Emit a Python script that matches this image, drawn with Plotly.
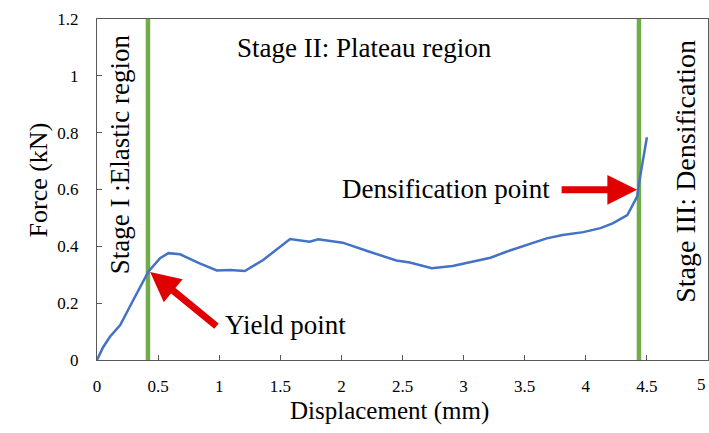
import plotly.graph_objects as go

# Force–displacement curve
disp = [0.0, 0.05, 0.106, 0.19, 0.297, 0.42, 0.516, 0.584, 0.68, 0.84, 0.98, 1.088, 1.21,
        1.36, 1.58, 1.74, 1.81, 2.01, 2.23, 2.45, 2.56, 2.74, 2.91, 3.05, 3.22, 3.35, 3.49,
        3.68, 3.81, 3.98, 4.12, 4.22, 4.34, 4.42, 4.44, 4.47, 4.50]
force = [0.0, 0.045, 0.082, 0.123, 0.211, 0.311, 0.358, 0.376, 0.372, 0.34, 0.315, 0.317, 0.313,
         0.352, 0.426, 0.416, 0.425, 0.413, 0.381, 0.35, 0.343, 0.323, 0.331, 0.344, 0.36, 0.381, 0.401,
         0.428, 0.44, 0.45, 0.464, 0.481, 0.51, 0.575, 0.634, 0.716, 0.784]

# Stage boundaries
stage_bounds = [0.417, 4.435]

xticks = [0, 0.5, 1, 1.5, 2, 2.5, 3, 3.5, 4, 4.5, 5]
xtick_labels = ["0", "0.5", "1", "1.5", "2", "2.5", "3", "3.5", "4", "4.5", "5"]
yticks = [0, 0.2, 0.4, 0.6, 0.8, 1.0, 1.2]
ytick_labels = ["0", "0.2", "0.4", "0.6", "0.8", "1", "1.2"]

FONT = "Liberation Serif, serif"
fig = go.Figure()

for xb in stage_bounds:
    fig.add_trace(go.Scatter(x=[xb, xb], y=[-0.008, 1.2], mode="lines",
                             line=dict(color="#70AD47", width=4.5), showlegend=False,
                             cliponaxis=False))

fig.add_trace(go.Scatter(x=disp, y=force, mode="lines",
                         line=dict(color="#4472C4", width=2.5), showlegend=False))

text_font = dict(family=FONT, size=27, color="black")
fig.add_annotation(x=2.19, y=1.099, text="Stage II: Plateau region", showarrow=False, font=text_font)
fig.add_annotation(x=0.19, y=0.725, text="Stage I :Elastic region", showarrow=False,
                   font=text_font, textangle=-90)
fig.add_annotation(x=4.81, y=0.665, text="Stage III: Densification", showarrow=False,
                   font=dict(family=FONT, size=28, color="black"), textangle=-90)
fig.add_annotation(x=2.86, y=0.601, text="Densification point", showarrow=False, font=text_font)
fig.add_annotation(x=1.545, y=0.123, text="Yield point", showarrow=False, font=text_font)

# arrows
fig.add_annotation(x=0.435, y=0.31, ax=0.99, ay=0.115, xref="x", yref="y", axref="x", ayref="y",
                   text="", showarrow=True, arrowhead=2, arrowsize=0.85, arrowwidth=7,
                   arrowcolor="#E00000")
fig.add_annotation(x=4.42, y=0.599, ax=3.79, ay=0.599, xref="x", yref="y", axref="x", ayref="y",
                   text="", showarrow=True, arrowhead=2, arrowsize=0.85, arrowwidth=7,
                   arrowcolor="#E00000")

# axis titles
fig.add_annotation(x=0.4795, y=-0.197, xref="paper", yref="paper", text="Displacement (mm)",
                   showarrow=False, font=dict(family=FONT, size=25, color="black"))
fig.add_annotation(x=-0.1227, y=0.528, xref="paper", yref="paper", text="Force (kN)",
                   showarrow=False, font=dict(family=FONT, size=26, color="black"), textangle=-90)

# last x tick label sits at the figure's right edge
fig.add_annotation(x=xticks[-1], y=0, xref="x", yref="y", text=xtick_labels[-1],
                   showarrow=False, yanchor="top", xanchor="right", yshift=-13,
                   font=dict(family=FONT, size=17, color="black"))

axis_common = dict(showgrid=False, zeroline=False, showline=True, linecolor="#595959",
                   linewidth=1.3, mirror=True, ticks="inside", ticklen=5, tickcolor="#595959",
                   automargin=False,
                   tickfont=dict(family=FONT, size=17, color="black"))

fig.update_xaxes(range=[0, 5], tickvals=xticks, ticktext=xtick_labels,
                 ticklabelstandoff=10, **axis_common)
fig.update_yaxes(range=[0, 1.2], tickvals=yticks, ticktext=ytick_labels,
                 ticklabelstandoff=14, **axis_common)

fig.update_layout(width=709, height=433, margin=dict(l=97, r=1, t=19, b=73),
                  font=dict(family=FONT, color="black"),
                  plot_bgcolor="white", paper_bgcolor="white")

fig.write_html("out.html", config={"displayModeBar": False},
               post_script="document.body.style.margin='0';document.body.style.overflow='hidden';")
